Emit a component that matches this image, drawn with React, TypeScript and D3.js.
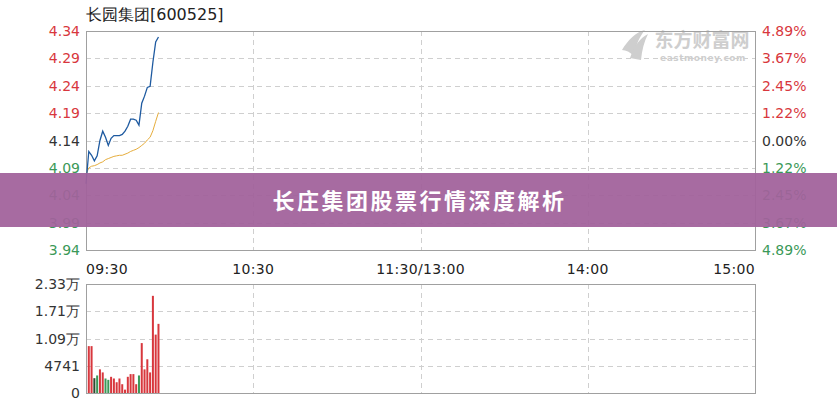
import * as d3 from 'd3';

const title = '长园集团[600525]';
const bannerText = '长庄集团股票行情深度解析';

// price axis (left) and change axis (right), top to bottom
const priceTicks = [4.34, 4.29, 4.24, 4.19, 4.14, 4.09, 4.04, 3.99, 3.94];
const pctTicks = ['4.89%', '3.67%', '2.45%', '1.22%', '0.00%', '1.22%', '2.45%', '3.67%', '4.89%'];
const prevClose = 4.14;

const timeLabels = ['09:30', '10:30', '11:30/13:00', '14:00', '15:00'];
const timeTicks = [0, 60, 120, 180, 240];

const volTickLabels = ['0', '4741', '1.09万', '1.71万', '2.33万'];
const volMax = 23300;

// minute-by-minute price (blue) and average price (yellow), from 09:30
const price = [
  4.061, 4.12, 4.113, 4.103, 4.112, 4.14, 4.157, 4.146, 4.131, 4.144, 4.149, 4.149, 4.149, 4.151,
  4.157, 4.166, 4.179, 4.179, 4.177, 4.168, 4.208, 4.221, 4.237, 4.239, 4.283, 4.32, 4.329,
];
const avgPrice = [
  4.078, 4.09, 4.093, 4.094, 4.096, 4.099, 4.101, 4.105, 4.107, 4.109, 4.111, 4.112, 4.113, 4.113,
  4.115, 4.117, 4.12, 4.122, 4.124, 4.127, 4.131, 4.135, 4.141, 4.146, 4.158, 4.175, 4.191,
];

// volume per minute from 09:31, with up/down colour flag
const volume = [
  10020, 10020, 3170, 3750, 5050, 4400, 3100, 2810, 3460, 3100, 2300, 3100, 1880, 720, 3460, 4040,
  4040, 1880, 3750, 10670, 5050, 7210, 4400, 20770, 12480, 14780,
];
const volDir = [
  'r', 'r', 'd', 'g', 'r', 'r', 'g', 'g', 'r', 'r', 'r', 'r', 'r', 'r', 'r', 'r',
  'r', 'r', 'g', 'r', 'r', 'r', 'r', 'r', 'r', 'r',
];

const RED = '#d8373d';
const GREEN = '#3b9958';
const DARK = '#333333';
const FONT = '"DejaVu Sans", Tahoma, sans-serif';

export default function App() {
  const W = 837;
  const H = 400;
  const left = 86;
  const right = 755;

  const x = d3.scaleLinear().domain([0, 240]).range([left, right]);
  const y = d3.scaleLinear().domain([3.94, 4.34]).range([250, 31]);
  const yv = d3.scaleLinear().domain([0, volMax]).range([393, 284]);

  const line = d3
    .line<number>()
    .x((_, i) => x(i))
    .y(d => y(d));

  const tickColor = (v: number) => (Math.abs(v - prevClose) < 1e-6 ? DARK : v > prevClose ? RED : GREEN);

  const volTickVals = volTickLabels.map((_, i) => (volMax * i) / (volTickLabels.length - 1));
  const barColor: Record<string, string> = { r: RED, g: GREEN, d: '#2f4a30' };

  return (
    <svg
      width={W}
      height={H}
      style={{ position: 'absolute', left: 0, top: 0, background: '#fff' }}
      fontFamily={FONT}
    >
      <rect width={W} height={H} fill="#fff" />

      {/* title */}
      <text x={left} y={20} fontSize={16} fill="#222">
        {title}
      </text>

      {/* watermark */}
      <g fill="#c9c9c9" opacity={0.9}>
        <path d="M622,50 C628,40 636,32 645,30 C640,36 636,44 634,56 C630,52 626,50 622,50 Z" />
        <path d="M630,58 C634,46 640,38 648,34 C644,42 642,50 641,60 Z" />
        <text
          x={702}
          y={47}
          fontSize={19}
          fontWeight="bold"
          textAnchor="middle"
          fontFamily='"Noto Sans CJK SC", sans-serif'
        >
          东方财富网
        </text>
        <text x={703} y={61} fontSize={9} fontWeight="bold" textAnchor="middle" letterSpacing={0.5}>
          eastmoney.com
        </text>
      </g>

      {/* main price panel grid */}
      <g stroke="#cfcfcf" strokeDasharray="5,4" strokeWidth={1}>
        {priceTicks.slice(1, -1).map(v => (
          <line key={v} x1={left} x2={right} y1={Math.round(y(v)) + 0.5} y2={Math.round(y(v)) + 0.5} />
        ))}
        {timeTicks.slice(1, -1).map(t => (
          <line key={t} x1={Math.round(x(t)) + 0.5} x2={Math.round(x(t)) + 0.5} y1={31} y2={250} />
        ))}
      </g>
      <rect x={left + 0.5} y={31.5} width={right - left} height={219} fill="none" stroke="#a0a0a0" />

      {/* left price ticks */}
      {priceTicks.map(v => (
        <text key={'p' + v} x={80} y={y(v) + 5} fontSize={14} textAnchor="end" fill={tickColor(v)}>
          {v.toFixed(2)}
        </text>
      ))}
      {/* right pct ticks */}
      {pctTicks.map((t, i) => (
        <text
          key={'c' + i}
          x={762}
          y={y(priceTicks[i]) + 5}
          fontSize={14}
          fill={tickColor(priceTicks[i])}
        >
          {t}
        </text>
      ))}

      {/* price lines */}
      <path d={line(avgPrice) || ''} fill="none" stroke="#e6ad3c" strokeWidth={1} />
      <path d={line(price) || ''} fill="none" stroke="#1e5aa0" strokeWidth={1.3} />

      {/* time labels */}
      {timeLabels.map((t, i) => (
        <text
          key={t}
          x={x(timeTicks[i])}
          y={274}
          fontSize={14}
          fill="#222"
          letterSpacing={0.3}
          textAnchor={i === 0 ? 'start' : i === timeLabels.length - 1 ? 'end' : 'middle'}
        >
          {t}
        </text>
      ))}

      {/* volume panel grid */}
      <g stroke="#cfcfcf" strokeDasharray="5,4" strokeWidth={1}>
        {volTickVals.slice(1, -1).map(v => (
          <line key={v} x1={left} x2={right} y1={Math.round(yv(v)) + 0.5} y2={Math.round(yv(v)) + 0.5} />
        ))}
        {timeTicks.slice(1, -1).map(t => (
          <line key={t} x1={Math.round(x(t)) + 0.5} x2={Math.round(x(t)) + 0.5} y1={284} y2={393} />
        ))}
      </g>
      <rect x={left + 0.5} y={284.5} width={right - left} height={109} fill="none" stroke="#a0a0a0" />

      {volTickLabels.map((t, i) => (
        <text key={t} x={80} y={yv(volTickVals[i]) + 5} fontSize={14} textAnchor="end" fill="#333">
          {t}
        </text>
      ))}

      {/* volume bars */}
      {volume.map((v, i) => (
        <rect
          key={'v' + i}
          x={x(i + 1) - 1}
          y={yv(v)}
          width={2}
          height={yv(0) - yv(v)}
          fill={barColor[volDir[i]]}
        />
      ))}

      {/* banner overlay */}
      <rect x={0} y={173} width={W} height={54} fill="#a1629b" opacity={0.94} />
      <text
        x={W / 2 + 1}
        y={209}
        fontSize={22}
        fontWeight="bold"
        textAnchor="middle"
        fill="#fff"
        letterSpacing={2.5}
        fontFamily='"Noto Sans CJK SC", sans-serif'
      >
        {bannerText}
      </text>
    </svg>
  );
}
